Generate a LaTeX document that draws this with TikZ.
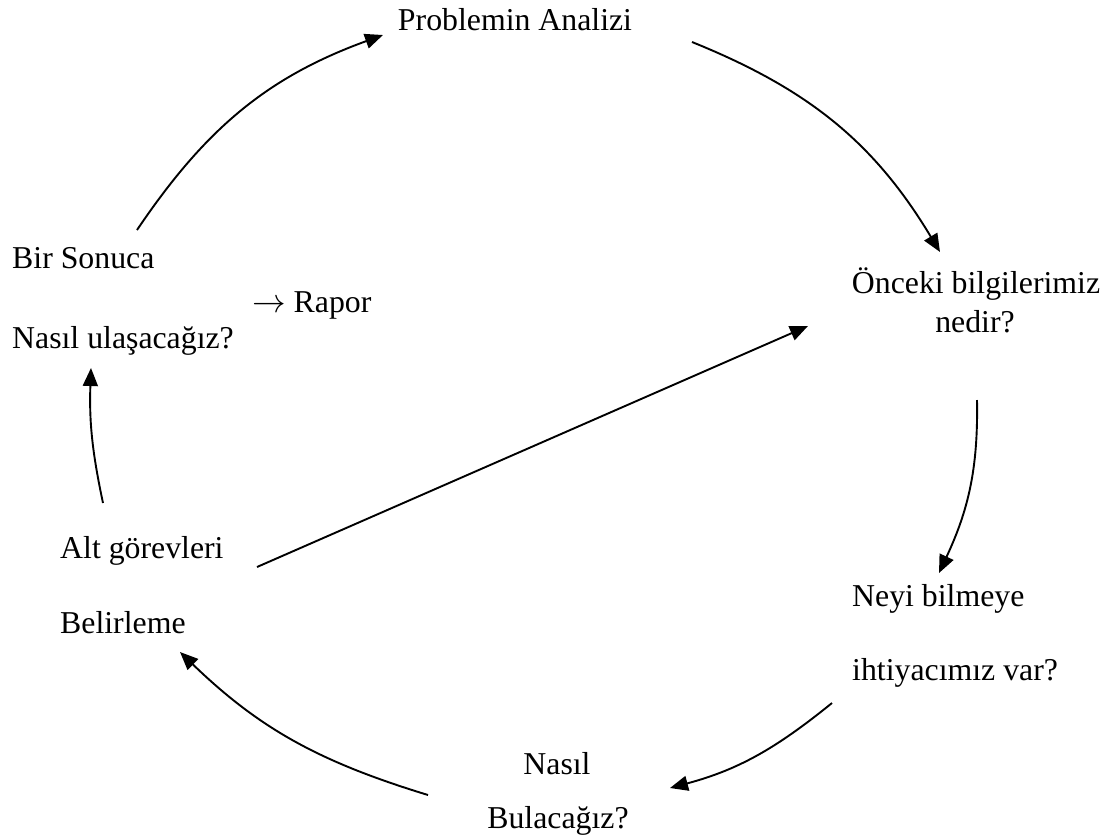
\documentclass[tikz,border=0pt]{standalone}
\usepackage{fontspec}
\setmainfont{Liberation Serif}
\usepackage{graphicx}
\usepackage{tikz}
\usetikzlibrary{arrows.meta}

\begin{document}
\begin{tikzpicture}[x=1pt, y=1pt,
  every node/.style={inner sep=0pt, font=\fontsize{31.8}{38}\selectfont},
  flow/.style={line width=1.9pt, -{Triangle[length=18pt, width=15pt]}}]
\useasboundingbox (0,0) rectangle (1114,-839);

\node[anchor=base] (prob) at (515,-30) {Problemin Analizi};
\node[anchor=base west] (bir) at (12,-268) {Bir Sonuca};
\node[anchor=base west] (rapor) at (252,-312) {\scalebox{1.35}{$\rightarrow$} Rapor};
\node[anchor=base west] (nasil) at (12,-348) {Nasıl ulaşacağız?};
\node[anchor=base] (once) at (976,-293) {Önceki bilgilerimiz};
\node[anchor=base] (nedir) at (975,-332) {nedir?};
\node[anchor=base west] (alt) at (60,-558) {Alt görevleri};
\node[anchor=base west] (beli) at (60,-633) {Belirleme};
\node[anchor=base west] (neyi) at (852,-606) {Neyi bilmeye};
\node[anchor=base west] (ihti) at (852,-680) {ihtiyacımız var?};
\node[anchor=base] (nbul) at (557,-774) {Nasıl};
\node[anchor=base] (bul) at (558,-828) {Bulacağız?};

\draw[flow] ([shift={(125,38)}]bir.base west) to[out=56, in=200] ([shift={(-132,-5)}]prob.base);
\draw[flow] ([shift={(177,-12)}]prob.base) to[out=-22, in=121] ([shift={(-36,41)}]once.base);
\draw[flow] ([shift={(2,-68)}]nedir.base) to[out=-89, in=65] ([shift={(87,33)}]neyi.base west);
\draw[flow] ([shift={(-20,-23)}]ihti.base west) to[out=219, in=15] ([shift={(113,-14)}]nbul.base);
\draw[flow] ([shift={(-130,33)}]bul.base) to[out=163, in=-44] ([shift={(120,-19)}]beli.base west);
\draw[flow] ([shift={(43,55)}]alt.base west) to[out=102, in=268] ([shift={(79,-20)}]nasil.base west);
\draw[flow] ([shift={(197,-9)}]alt.base west) -- ([shift={(-168,-33)}]once.base);
\end{tikzpicture}
\end{document}
